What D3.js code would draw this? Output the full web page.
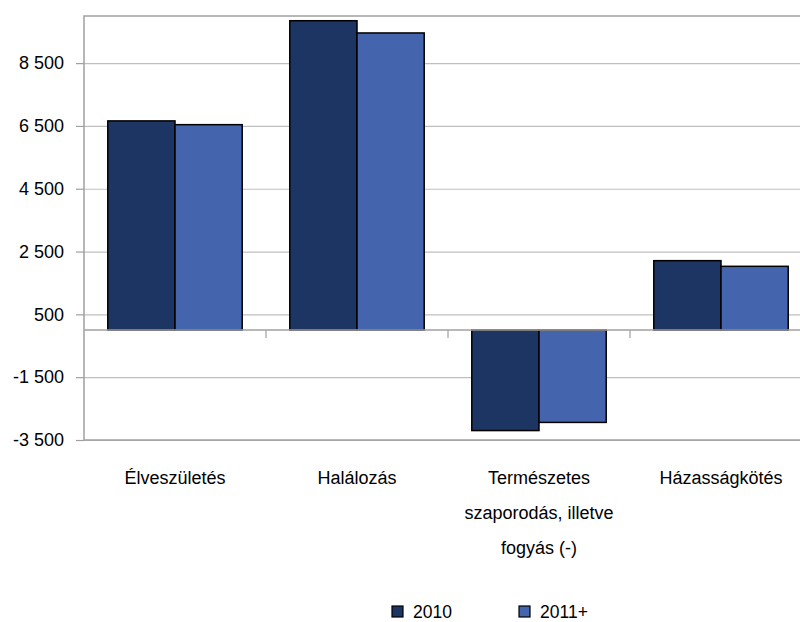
<!DOCTYPE html>
<html>
<head>
<meta charset="utf-8">
<script src="https://cdn.jsdelivr.net/npm/d3@7"></script>
<style>
  body { margin: 0; background: #fff; }
  svg { display: block; font-family: "Liberation Sans", Arial, sans-serif; }
</style>
</head>
<body>
<svg id="chart" width="800" height="622"></svg>
<script>
const categories = [
  ['Élveszületés'],
  ['Halálozás'],
  ['Természetes', 'szaporodás, illetve', 'fogyás (-)'],
  ['Házasságkötés'],
];
const seriesNames = ['2010', '2011+'];
const values2010 = [6660, 9850, -3200, 2210];
const values2011 = [6540, 9460, -2940, 2030];
const yTicks = [8500, 6500, 4500, 2500, 500, -1500, -3500];
const colors = ['#1c3562', '#4465ad'];

const svg = d3.select('#chart');
const margin = { left: 84, top: 16, right: -12, bottom: 182 };
const width = 800 - margin.left - margin.right;
const height = 622 - margin.top - margin.bottom;
const g = svg.append('g').attr('transform', `translate(${margin.left},${margin.top})`);

const x = d3.scaleBand().domain(d3.range(categories.length)).range([0, width]);
const xInner = d3.scaleBand().domain(seriesNames).range([0, x.bandwidth()]).paddingOuter(0.354);
const y = d3.scaleLinear().domain([-3500, 10000]).range([height, 0]);

// "8 500", "-1 500" (space as thousands separator, plain hyphen)
const fmt = (v) => d3.format(',')(v).replace(',', ' ').replace('−', '-');

// grid
g.append('g')
  .call(d3.axisLeft(y).tickValues(yTicks).tickSize(-width).tickFormat(''))
  .call((s) => s.select('.domain').remove())
  .selectAll('.tick line')
  .attr('stroke', '#bfbfbf')
  .attr('stroke-width', 1.2);

// plot border (top, left, bottom)
g.append('path')
  .attr('d', `M${width},0H0V${height}H${width}`)
  .attr('fill', 'none')
  .attr('stroke', '#a0a0a0')
  .attr('stroke-width', 1.5);

// y axis labels + ticks
const yAxis = g.append('g')
  .call(d3.axisLeft(y).tickValues(yTicks).tickSize(8).tickPadding(12).tickFormat(fmt));
yAxis.select('.domain').remove();
yAxis.selectAll('.tick line').attr('stroke', '#a0a0a0').attr('stroke-width', 1.2);
yAxis.selectAll('.tick text')
  .attr('fill', '#000')
  .attr('font-size', 18)
  .attr('font-family', '"Liberation Sans", Arial, sans-serif');

// bars
const data = categories.map((c, i) => ({ i, vals: [values2010[i], values2011[i]] }));
const groups = g.selectAll('.cat').data(data).join('g')
  .attr('transform', (d) => `translate(${x(d.i)},0)`);
groups.selectAll('rect')
  .data((d) => d.vals.map((v, k) => ({ v, k })))
  .join('rect')
  .attr('x', (d) => xInner(seriesNames[d.k]))
  .attr('width', xInner.bandwidth())
  .attr('y', (d) => y(Math.max(0, d.v)))
  .attr('height', (d) => Math.abs(y(d.v) - y(0)))
  .attr('fill', (d) => colors[d.k])
  .attr('stroke', '#000')
  .attr('stroke-width', 1.5);

// zero axis with category ticks
g.append('line')
  .attr('x1', 0).attr('x2', width)
  .attr('y1', y(0)).attr('y2', y(0))
  .attr('stroke', '#a0a0a0')
  .attr('stroke-width', 1.5);
g.selectAll('.xtick').data(d3.range(1, categories.length)).join('line')
  .attr('x1', (d) => x(d)).attr('x2', (d) => x(d))
  .attr('y1', y(0)).attr('y2', y(0) + 8)
  .attr('stroke', '#a0a0a0')
  .attr('stroke-width', 1.2);

// category labels
const labels = g.selectAll('.xlabel').data(categories).join('text')
  .attr('text-anchor', 'middle')
  .attr('font-size', 18)
  .attr('fill', '#000');
labels.selectAll('tspan')
  .data((d, i) => d.map((line) => ({ line, i })))
  .join('tspan')
  .attr('x', (d) => x(d.i) + x.bandwidth() / 2)
  .attr('y', (d, j) => height + 44 + j * 35)
  .text((d) => d.line);

// legend
const legend = svg.append('g').attr('transform', 'translate(392,606)');
const items = legend.selectAll('g').data(seriesNames).join('g')
  .attr('transform', (d, k) => `translate(${k * 127},0)`);
items.append('rect')
  .attr('width', 11).attr('height', 11)
  .attr('fill', (d, k) => colors[k])
  .attr('stroke', '#000')
  .attr('stroke-width', 1.2);
items.append('text')
  .attr('x', 21).attr('y', 12)
  .attr('font-size', 17.5)
  .text((d) => d);
</script>
</body>
</html>
